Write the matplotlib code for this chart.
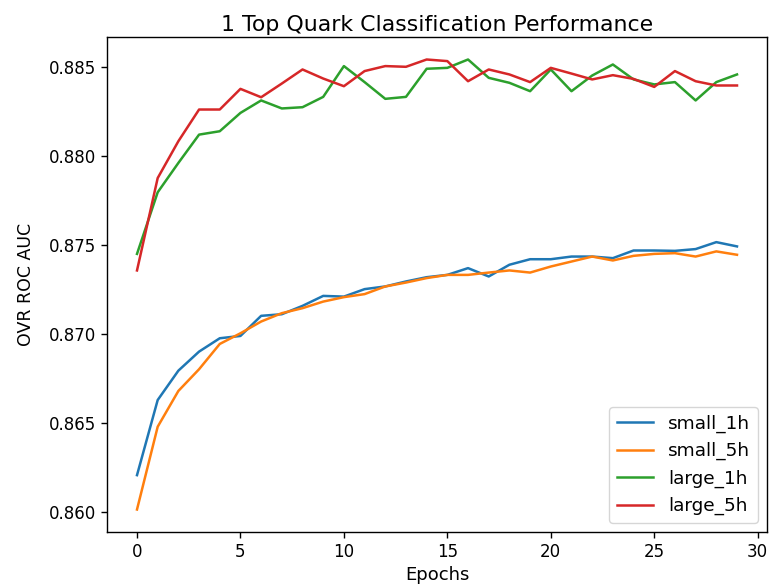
import matplotlib
matplotlib.use("Agg")
import matplotlib.pyplot as plt

epochs = list(range(30))

small_1h = [0.86206, 0.86628, 0.86793, 0.86900, 0.86975, 0.86988, 0.87101, 0.87110, 0.87157, 0.87213,
            0.87209, 0.87251, 0.87266, 0.87294, 0.87318, 0.87331, 0.87369, 0.87322, 0.87388, 0.87419,
            0.87419, 0.87434, 0.87434, 0.87425, 0.87468, 0.87468, 0.87466, 0.87476, 0.87515, 0.87491]
small_5h = [0.86013, 0.86478, 0.86679, 0.86801, 0.86943, 0.87003, 0.87069, 0.87116, 0.87144, 0.87181,
            0.87206, 0.87223, 0.87266, 0.87288, 0.87313, 0.87331, 0.87331, 0.87344, 0.87356, 0.87344,
            0.87378, 0.87406, 0.87434, 0.87412, 0.87438, 0.87449, 0.87453, 0.87434, 0.87463, 0.87444]
large_1h = [0.87449, 0.87795, 0.87960, 0.88119, 0.88138, 0.88241, 0.88311, 0.88266, 0.88273, 0.88331,
            0.88504, 0.88414, 0.88320, 0.88331, 0.88489, 0.88494, 0.88541, 0.88438, 0.88410, 0.88363,
            0.88485, 0.88363, 0.88451, 0.88513, 0.88429, 0.88401, 0.88414, 0.88311, 0.88414, 0.88457]
large_5h = [0.87356, 0.87875, 0.88082, 0.88260, 0.88260, 0.88376, 0.88329, 0.88406, 0.88485, 0.88434,
            0.88391, 0.88476, 0.88504, 0.88500, 0.88541, 0.88532, 0.88419, 0.88485, 0.88457, 0.88414,
            0.88494, 0.88462, 0.88429, 0.88453, 0.88432, 0.88387, 0.88476, 0.88419, 0.88395, 0.88395]

series = [("small_1h", small_1h), ("small_5h", small_5h), ("large_1h", large_1h), ("large_5h", large_5h)]

plt.rcParams["font.size"] = 12
fig = plt.figure(figsize=(7.69, 5.88), dpi=100)
ax = fig.add_axes([107 / 769, 1 - 532 / 588, (767 - 107) / 769, (532 - 37) / 588])
for name, vals in series:
    ax.plot(epochs, vals, label=name, linewidth=1.8)
ax.set_title("1 Top Quark Classification Performance", fontsize=15.8, pad=4)
ax.set_xlabel("Epochs", fontsize=13)
ax.set_ylabel("OVR ROC AUC", fontsize=12.5, labelpad=10)
ax.tick_params(labelsize=12, length=4.2, width=1)
for s in ax.spines.values():
    s.set_linewidth(1)
ax.legend(loc="lower right", fontsize=13.3)
fig.savefig("out.png", dpi=100)
